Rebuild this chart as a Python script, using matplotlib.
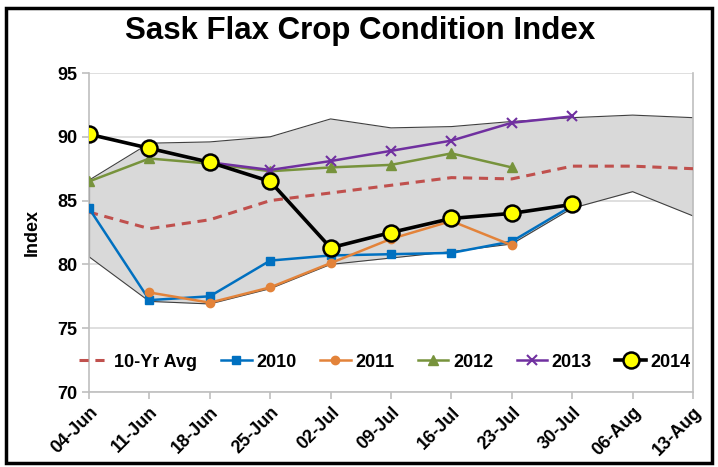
import numpy as np
import matplotlib

matplotlib.use("Agg")
import matplotlib.pyplot as plt
from matplotlib.patches import Rectangle

plt.rcParams["font.family"] = ["Liberation Sans", "DejaVu Sans"]

nan = np.nan
weeks = ["04-Jun", "11-Jun", "18-Jun", "25-Jun", "02-Jul", "09-Jul",
         "16-Jul", "23-Jul", "30-Jul", "06-Aug", "13-Aug"]

band_hi = [86.6, 89.5, 89.6, 90.0, 91.4, 90.7, 90.8, 91.2, 91.5, 91.7, 91.5]
band_lo = [80.6, 77.1, 76.9, 78.1, 80.0, 80.5, 81.0, 81.6, 84.4, 85.7, 83.8]
avg10 = [84.1, 82.8, 83.5, 85.0, 85.6, 86.2, 86.8, 86.7, 87.7, 87.7, 87.5]
y2010 = [84.4, 77.2, 77.5, 80.3, 80.7, 80.8, 80.9, 81.8, 84.6, nan, nan]
y2011 = [nan, 77.8, 77.0, 78.2, 80.1, 82.0, 83.4, 81.5, nan, nan, nan]
y2012 = [86.5, 88.3, 87.9, 87.3, 87.6, 87.8, 88.7, 87.6, nan, nan, nan]
y2013 = [nan, nan, 88.0, 87.4, 88.1, 88.9, 89.7, 91.1, 91.6, nan, nan]
y2014 = [90.2, 89.1, 88.0, 86.5, 81.3, 82.5, 83.6, 84.0, 84.7, nan, nan]

W, H = 718, 467
fig = plt.figure(figsize=(W / 100, H / 100), dpi=100)
ax = fig.add_axes([89 / W, 1 - 392 / H, (693 - 89) / W, (392 - 73) / H])

x = np.arange(len(weeks))

# grey min/max envelope
ax.fill_between(x, band_lo, band_hi, color="#d9d9d9", linewidth=0, zorder=1)
ax.plot(x, band_hi, color="#404040", linewidth=0.8, zorder=2)
ax.plot(x, band_lo, color="#404040", linewidth=0.8, zorder=2)
ax.plot([x[0], x[0]], [band_lo[0], band_hi[0]], color="#404040", linewidth=0.8, zorder=2)
ax.plot([x[-1], x[-1]], [band_lo[-1], band_hi[-1]], color="#404040", linewidth=0.8, zorder=2)

ax.plot(x, avg10, color="#c0504d", linewidth=2.2, dashes=(3, 2.2), label="10-Yr Avg", zorder=3)
ax.plot(x, y2010, color="#0070c0", linewidth=1.8, marker="s", markersize=6,
        label="2010", zorder=4)
ax.plot(x, y2011, color="#e3833a", linewidth=1.8, marker="o", markersize=6,
        label="2011", zorder=4)
ax.plot(x, y2012, color="#77933c", linewidth=1.8, marker="^", markersize=7,
        label="2012", zorder=4)
ax.plot(x, y2013, color="#7030a0", linewidth=1.8, marker="x", markersize=7,
        markeredgewidth=1.5, label="2013", zorder=4)
ax.plot(x, y2014, color="black", linewidth=2.6, marker="o", markersize=11.5,
        markerfacecolor="#ffff00", markeredgecolor="black", markeredgewidth=1.8,
        label="2014", zorder=5)

ax.set_xlim(0, len(weeks) - 1)
ax.set_ylim(70, 95)
ax.set_yticks(np.arange(70, 96, 5))
ax.set_xticks(x)
ax.set_xticklabels(weeks, rotation=45, ha="right", rotation_mode="anchor")
ax.grid(axis="y", color="#d9d9d9", linewidth=1.2, zorder=0)
ax.set_axisbelow(True)
for side in ("left", "bottom", "right"):
    ax.spines[side].set_color("#bfbfbf")
    ax.spines[side].set_linewidth(1.2)
ax.spines["top"].set_visible(False)
ax.tick_params(axis="both", colors="#bfbfbf", labelcolor="black", labelsize=13,
               length=5, width=1.2)
for lbl in ax.get_xticklabels() + ax.get_yticklabels():
    lbl.set_fontweight("bold")
ax.set_ylabel("Index", fontsize=13, fontweight="bold", labelpad=12)

ax.legend(loc="center", bbox_to_anchor=(0.49, 0.094), ncol=6, frameon=False,
          handlelength=1.7, handletextpad=0.25, columnspacing=1.3,
          prop={"size": 13, "weight": "bold"})

fig.text(360 / W, 1 - 31 / H, "Sask Flax Crop Condition Index", ha="center",
         va="center", fontsize=22.5, fontweight="bold")

fig.patches.append(Rectangle((6 / W, 1 - 463 / H), (712 - 6) / W, (463 - 8) / H,
                             transform=fig.transFigure, fill=False,
                             edgecolor="black", linewidth=2.5))

fig.savefig("out.png", dpi=100, facecolor="white")
